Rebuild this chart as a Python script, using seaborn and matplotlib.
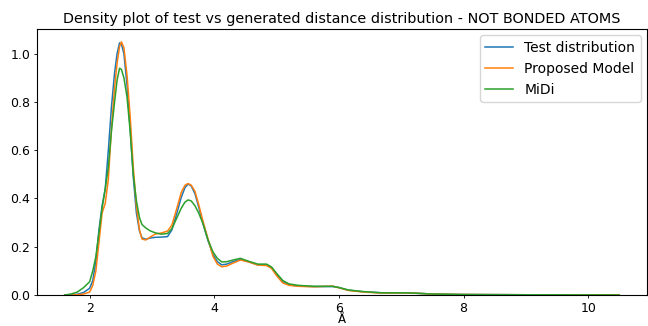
import matplotlib
matplotlib.use("Agg")
import matplotlib.pyplot as plt
import seaborn as sns
import pandas as pd

x = [1.6, 1.7, 1.8, 1.9, 2.0, 2.05, 2.1, 2.15, 2.2, 2.25, 2.3, 2.35, 2.4, 2.44, 2.48,
     2.51, 2.55, 2.6, 2.65, 2.7, 2.75, 2.8, 2.84, 2.9, 2.97, 3.05, 3.15, 3.25, 3.32, 3.4,
     3.47, 3.53, 3.58, 3.63, 3.69, 3.75, 3.82, 3.9, 3.98, 4.05, 4.12, 4.2, 4.3, 4.42, 4.55,
     4.7, 4.84, 4.92, 5.0, 5.1, 5.2, 5.35, 5.6, 5.9, 6.0, 6.15, 6.4, 6.7, 7.1, 7.5,
     8.0, 9.0, 10.0, 10.5]

test_density = [0.0, 0.001, 0.003, 0.01, 0.028, 0.06, 0.14, 0.27, 0.37, 0.44, 0.6, 0.78, 0.92,
                1.0, 1.045, 1.04, 1.0, 0.87, 0.69, 0.49, 0.34, 0.265, 0.237, 0.231, 0.236,
                0.239, 0.24, 0.242, 0.27, 0.34, 0.405, 0.445, 0.46, 0.452, 0.42, 0.365, 0.295,
                0.225, 0.168, 0.138, 0.125, 0.128, 0.138, 0.147, 0.138, 0.125, 0.124, 0.113,
                0.085, 0.055, 0.042, 0.037, 0.035, 0.035, 0.031, 0.02, 0.013, 0.009, 0.009,
                0.004, 0.002, 0.001, 0.0005, 0.0]

proposed_density = [0.0, 0.0, 0.001, 0.004, 0.012, 0.04, 0.1, 0.22, 0.34, 0.38, 0.48, 0.69,
                    0.86, 0.96, 1.03, 1.049, 1.025, 0.91, 0.74, 0.53, 0.37, 0.27, 0.232, 0.228,
                    0.24, 0.252, 0.257, 0.265, 0.29, 0.36, 0.425, 0.455, 0.462, 0.455, 0.43,
                    0.375, 0.305, 0.232, 0.16, 0.128, 0.117, 0.12, 0.132, 0.145, 0.137, 0.124,
                    0.122, 0.11, 0.08, 0.05, 0.04, 0.036, 0.034, 0.037, 0.03, 0.019, 0.012,
                    0.008, 0.009, 0.004, 0.002, 0.001, 0.0005, 0.0]

midi_density = [0.0, 0.004, 0.012, 0.03, 0.055, 0.1, 0.16, 0.26, 0.36, 0.44, 0.53, 0.68, 0.8,
                0.89, 0.94, 0.935, 0.9, 0.82, 0.68, 0.5, 0.39, 0.32, 0.292, 0.278, 0.266,
                0.258, 0.252, 0.255, 0.275, 0.32, 0.36, 0.385, 0.394, 0.39, 0.37, 0.34, 0.295,
                0.228, 0.178, 0.152, 0.137, 0.138, 0.145, 0.152, 0.14, 0.128, 0.128, 0.116,
                0.09, 0.06, 0.046, 0.04, 0.036, 0.036, 0.031, 0.021, 0.014, 0.009, 0.009,
                0.004, 0.002, 0.001, 0.0005, 0.0]

labels = ["Test distribution", "Proposed Model", "MiDi"]
title = "Density plot of test vs generated distance distribution - NOT BONDED ATOMS"
xlabel = "Å"
xticks = [2, 4, 6, 8, 10]
yticks = [0.0, 0.2, 0.4, 0.6, 0.8, 1.0]

frames = []
for lab, vals in zip(labels, [test_density, proposed_density, midi_density]):
    frames.append(pd.DataFrame({"x": x, "density": vals, "series": lab}))
df = pd.concat(frames, ignore_index=True)

fig = plt.figure(figsize=(6.48, 3.26), dpi=100)
ax = fig.add_axes([37/648, 1 - 295/326, 610/648, 266/326])
sns.lineplot(data=df, x="x", y="density", hue="series", hue_order=labels,
             palette=["#1f77b4", "#ff7f0e", "#2ca02c"], linewidth=1.1, ax=ax, legend=True)
ax.set_ylim(0, 1.1025)
ax.margins(x=0.05)
ax.set_xticks(xticks)
ax.set_yticks(yticks)
ax.tick_params(labelsize=9, length=2.5, width=0.6, pad=2.5)
for s in ax.spines.values():
    s.set_linewidth(0.8)
ax.set_xlabel(xlabel, fontsize=8.5, labelpad=-1.5)
ax.set_ylabel("")
ax.set_title(title, fontsize=10.4, pad=4)
leg = ax.legend(loc="upper right", fontsize=10, title=None, borderaxespad=0.45)
fig.savefig("out.png", dpi=100)
